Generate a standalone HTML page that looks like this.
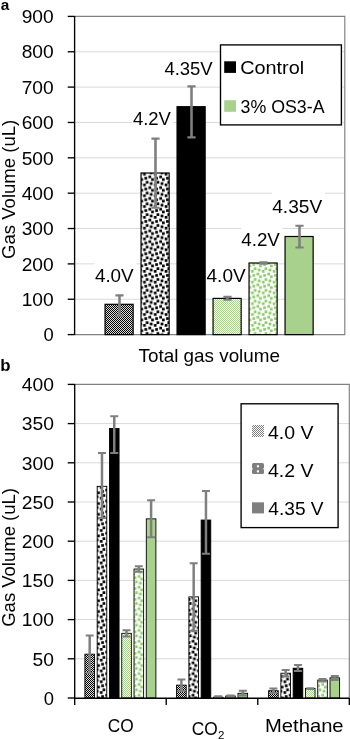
<!DOCTYPE html><html><head><meta charset="utf-8"><title>chart</title>
<style>html,body{margin:0;padding:0;background:#fff}svg{display:block}text{font-family:"Liberation Sans",sans-serif;fill:#000}</style></head><body>
<svg style="will-change:transform" width="350" height="739" viewBox="0 0 350 739">
<defs>
<pattern id="pc" width="2" height="2" patternUnits="userSpaceOnUse"><rect width="2" height="2" fill="#dcdcdc"/><rect x="0" y="0" width="1" height="1" fill="#000"/><rect x="1" y="1" width="1" height="1" fill="#000"/></pattern>
<pattern id="pg" width="2" height="2" patternUnits="userSpaceOnUse"><rect width="2" height="2" fill="#fff"/><rect x="0" y="0" width="1" height="1" fill="#a9d18e"/><rect x="1" y="1" width="1" height="1" fill="#a9d18e"/></pattern>
<pattern id="pl" width="2" height="2" patternUnits="userSpaceOnUse"><rect width="2" height="2" fill="#fff"/><rect x="0" y="0" width="1" height="1" fill="#7f7f7f"/><rect x="1" y="1" width="1" height="1" fill="#7f7f7f"/></pattern>
<pattern id="cc" width="10.8" height="10.8" patternUnits="userSpaceOnUse"><rect width="10.8" height="10.8" fill="#fff"/><rect x="2.7" y="0" width="2.7" height="2.7" fill="#000"/><rect x="8.1" y="2.7" width="2.7" height="2.7" fill="#000"/><rect x="4.05" y="4.05" width="2.7" height="2.7" fill="#000"/><rect x="0" y="5.4" width="2.7" height="2.7" fill="#000"/><rect x="5.4" y="8.1" width="2.7" height="2.7" fill="#000"/><rect x="9.45" y="9.45" width="2.7" height="2.7" fill="#000"/><rect x="-1.35" y="9.45" width="2.7" height="2.7" fill="#000"/><rect x="9.45" y="-1.35" width="2.7" height="2.7" fill="#000"/><rect x="-1.35" y="-1.35" width="2.7" height="2.7" fill="#000"/></pattern>
<pattern id="cg" width="10.8" height="10.8" patternUnits="userSpaceOnUse"><rect width="10.8" height="10.8" fill="#fff"/><rect x="2.7" y="0" width="2.7" height="2.7" fill="#8ecb6c"/><rect x="8.1" y="2.7" width="2.7" height="2.7" fill="#8ecb6c"/><rect x="4.05" y="4.05" width="2.7" height="2.7" fill="#8ecb6c"/><rect x="0" y="5.4" width="2.7" height="2.7" fill="#8ecb6c"/><rect x="5.4" y="8.1" width="2.7" height="2.7" fill="#8ecb6c"/><rect x="9.45" y="9.45" width="2.7" height="2.7" fill="#8ecb6c"/><rect x="-1.35" y="9.45" width="2.7" height="2.7" fill="#8ecb6c"/><rect x="9.45" y="-1.35" width="2.7" height="2.7" fill="#8ecb6c"/><rect x="-1.35" y="-1.35" width="2.7" height="2.7" fill="#8ecb6c"/></pattern>
</defs>
<rect width="350" height="739" fill="#fff"/>
<line x1="74.6" y1="299.24" x2="344.8" y2="299.24" stroke="#d9d9d9" stroke-width="1"/>
<line x1="74.6" y1="263.89" x2="344.8" y2="263.89" stroke="#d9d9d9" stroke-width="1"/>
<line x1="74.6" y1="228.53" x2="344.8" y2="228.53" stroke="#d9d9d9" stroke-width="1"/>
<line x1="74.6" y1="193.18" x2="344.8" y2="193.18" stroke="#d9d9d9" stroke-width="1"/>
<line x1="74.6" y1="157.82" x2="344.8" y2="157.82" stroke="#d9d9d9" stroke-width="1"/>
<line x1="74.6" y1="122.47" x2="344.8" y2="122.47" stroke="#d9d9d9" stroke-width="1"/>
<line x1="74.6" y1="87.11" x2="344.8" y2="87.11" stroke="#d9d9d9" stroke-width="1"/>
<line x1="74.6" y1="51.76" x2="344.8" y2="51.76" stroke="#d9d9d9" stroke-width="1"/>
<path d="M74.6 16.4 H344.8 V334.6 H74.6" fill="none" stroke="#808080" stroke-width="1.15"/>
<rect x="94.5" y="261" width="41.8" height="26" fill="#fff"/>
<rect x="132.3" y="103.5" width="40.9" height="26.5" fill="#fff"/>
<rect x="206.1" y="261" width="42.2" height="26" fill="#fff"/>
<rect x="241" y="225" width="41.4" height="26" fill="#fff"/>
<rect x="272" y="190" width="53" height="27" fill="#fff"/>
<rect x="105.05" y="304.30" width="28.10" height="30.30" fill="url(#pc)" stroke="#000" stroke-width="1.2"/>
<rect x="141.05" y="173.00" width="28.10" height="161.60" fill="url(#cc)" stroke="#000" stroke-width="1.2"/>
<rect x="177.05" y="106.70" width="28.10" height="227.90" fill="#000" stroke="#000" stroke-width="1.2"/>
<rect x="213.05" y="298.40" width="28.10" height="36.20" fill="url(#pg)" stroke="#000" stroke-width="1.2"/>
<rect x="249.05" y="263.00" width="28.10" height="71.60" fill="url(#cg)" stroke="#000" stroke-width="1.2"/>
<rect x="285.05" y="236.50" width="28.10" height="98.10" fill="#a9d18e" stroke="#000" stroke-width="1.2"/>
<path d="M119.50 295.40 V315.60" fill="none" stroke="#7f7f7f" stroke-width="2.6"/>
<path d="M115.40 295.40 H123.60 M115.40 315.60 H123.60" fill="none" stroke="#7f7f7f" stroke-width="2.1"/>
<path d="M155.50 138.60 V207.80" fill="none" stroke="#7f7f7f" stroke-width="2.6"/>
<path d="M151.40 138.60 H159.60 M151.40 207.80 H159.60" fill="none" stroke="#7f7f7f" stroke-width="2.1"/>
<path d="M191.50 86.40 V137.40" fill="none" stroke="#7f7f7f" stroke-width="2.6"/>
<path d="M187.40 86.40 H195.60 M187.40 137.40 H195.60" fill="none" stroke="#7f7f7f" stroke-width="2.1"/>
<path d="M227.50 296.90 V299.80" fill="none" stroke="#7f7f7f" stroke-width="2.6"/>
<path d="M223.40 296.90 H231.60 M223.40 299.80 H231.60" fill="none" stroke="#7f7f7f" stroke-width="2.1"/>
<path d="M263.50 262.20 V263.60" fill="none" stroke="#7f7f7f" stroke-width="2.6"/>
<path d="M259.40 262.20 H267.60 M259.40 263.60 H267.60" fill="none" stroke="#7f7f7f" stroke-width="2.1"/>
<path d="M299.50 225.80 V247.50" fill="none" stroke="#7f7f7f" stroke-width="2.6"/>
<path d="M295.40 225.80 H303.60 M295.40 247.50 H303.60" fill="none" stroke="#7f7f7f" stroke-width="2.1"/>
<line x1="74.6" y1="15.9" x2="74.6" y2="335.1" stroke="#000" stroke-width="1.35"/>
<line x1="67.7" y1="334.60" x2="74.6" y2="334.60" stroke="#000" stroke-width="1.35"/>
<text x="53.7" y="341.30" font-size="18.4" text-anchor="end">0</text>
<line x1="67.7" y1="299.24" x2="74.6" y2="299.24" stroke="#000" stroke-width="1.35"/>
<text x="53.7" y="305.94" font-size="18.4" text-anchor="end" textLength="32.0" lengthAdjust="spacingAndGlyphs">100</text>
<line x1="67.7" y1="263.89" x2="74.6" y2="263.89" stroke="#000" stroke-width="1.35"/>
<text x="53.7" y="270.59" font-size="18.4" text-anchor="end" textLength="32.0" lengthAdjust="spacingAndGlyphs">200</text>
<line x1="67.7" y1="228.53" x2="74.6" y2="228.53" stroke="#000" stroke-width="1.35"/>
<text x="53.7" y="235.23" font-size="18.4" text-anchor="end" textLength="32.0" lengthAdjust="spacingAndGlyphs">300</text>
<line x1="67.7" y1="193.18" x2="74.6" y2="193.18" stroke="#000" stroke-width="1.35"/>
<text x="53.7" y="199.88" font-size="18.4" text-anchor="end" textLength="32.0" lengthAdjust="spacingAndGlyphs">400</text>
<line x1="67.7" y1="157.82" x2="74.6" y2="157.82" stroke="#000" stroke-width="1.35"/>
<text x="53.7" y="164.52" font-size="18.4" text-anchor="end" textLength="32.0" lengthAdjust="spacingAndGlyphs">500</text>
<line x1="67.7" y1="122.47" x2="74.6" y2="122.47" stroke="#000" stroke-width="1.35"/>
<text x="53.7" y="129.17" font-size="18.4" text-anchor="end" textLength="32.0" lengthAdjust="spacingAndGlyphs">600</text>
<line x1="67.7" y1="87.11" x2="74.6" y2="87.11" stroke="#000" stroke-width="1.35"/>
<text x="53.7" y="93.81" font-size="18.4" text-anchor="end" textLength="32.0" lengthAdjust="spacingAndGlyphs">700</text>
<line x1="67.7" y1="51.76" x2="74.6" y2="51.76" stroke="#000" stroke-width="1.35"/>
<text x="53.7" y="58.46" font-size="18.4" text-anchor="end" textLength="32.0" lengthAdjust="spacingAndGlyphs">800</text>
<line x1="67.7" y1="16.40" x2="74.6" y2="16.40" stroke="#000" stroke-width="1.35"/>
<text x="53.7" y="23.10" font-size="18.4" text-anchor="end" textLength="32.0" lengthAdjust="spacingAndGlyphs">900</text>
<text x="94.90" y="282.30" font-size="18.4" text-anchor="start" textLength="38.80" lengthAdjust="spacingAndGlyphs" >4.0V</text>
<text x="132.90" y="124.80" font-size="18.4" text-anchor="start" textLength="38.00" lengthAdjust="spacingAndGlyphs" >4.2V</text>
<text x="164.40" y="74.90" font-size="18.4" text-anchor="start" textLength="48.30" lengthAdjust="spacingAndGlyphs" >4.35V</text>
<text x="206.50" y="282.00" font-size="18.4" text-anchor="start" textLength="39.20" lengthAdjust="spacingAndGlyphs" >4.0V</text>
<text x="241.30" y="245.90" font-size="18.4" text-anchor="start" textLength="38.60" lengthAdjust="spacingAndGlyphs" >4.2V</text>
<text x="272.20" y="212.60" font-size="18.4" text-anchor="start" textLength="50.00" lengthAdjust="spacingAndGlyphs" >4.35V</text>
<rect x="220.5" y="44.9" width="120.9" height="80.0" fill="#fff" stroke="#000" stroke-width="1.35"/>
<rect x="224.2" y="61.3" width="11.8" height="11.6" fill="#000"/>
<rect x="224.2" y="100.2" width="11.8" height="11.6" fill="#a9d18e"/>
<text x="240.20" y="74.00" font-size="18.4" text-anchor="start" textLength="64.00" lengthAdjust="spacingAndGlyphs" >Control</text>
<text x="240.50" y="112.60" font-size="18.4" text-anchor="start" textLength="84.00" lengthAdjust="spacingAndGlyphs" >3% OS3-A</text>
<text transform="translate(15.4,259.0) rotate(-90)" font-size="18.4" textLength="139.3" lengthAdjust="spacingAndGlyphs">Gas Volume (uL)</text>
<text x="138.50" y="362.40" font-size="18.4" text-anchor="start" textLength="141.50" lengthAdjust="spacingAndGlyphs" >Total gas volume</text>
<text x="0.7" y="9.7" font-size="15.4" font-weight="bold">a</text>
<text x="0.3" y="371.4" font-size="16.8" font-weight="bold">b</text>
<line x1="74.7" y1="658.80" x2="349.3" y2="658.80" stroke="#d9d9d9" stroke-width="1"/>
<line x1="74.7" y1="619.60" x2="349.3" y2="619.60" stroke="#d9d9d9" stroke-width="1"/>
<line x1="74.7" y1="580.40" x2="349.3" y2="580.40" stroke="#d9d9d9" stroke-width="1"/>
<line x1="74.7" y1="541.20" x2="349.3" y2="541.20" stroke="#d9d9d9" stroke-width="1"/>
<line x1="74.7" y1="502.00" x2="349.3" y2="502.00" stroke="#d9d9d9" stroke-width="1"/>
<line x1="74.7" y1="462.80" x2="349.3" y2="462.80" stroke="#d9d9d9" stroke-width="1"/>
<line x1="74.7" y1="423.60" x2="349.3" y2="423.60" stroke="#d9d9d9" stroke-width="1"/>
<path d="M74.7 384.4 H349.3 V698" fill="none" stroke="#808080" stroke-width="1.15"/>
<rect x="84.90" y="654.17" width="9.60" height="43.83" fill="url(#pc)" stroke="#000" stroke-width="0.9"/>
<rect x="97.18" y="486.32" width="9.60" height="211.68" fill="url(#cc)" stroke="#000" stroke-width="0.9"/>
<rect x="109.46" y="428.54" width="9.60" height="269.46" fill="#000" stroke="#000" stroke-width="0.9"/>
<rect x="121.74" y="633.32" width="9.60" height="64.68" fill="url(#pg)" stroke="#000" stroke-width="0.9"/>
<rect x="134.02" y="569.03" width="9.60" height="128.97" fill="url(#cg)" stroke="#000" stroke-width="0.9"/>
<rect x="146.30" y="518.86" width="9.60" height="179.14" fill="#a9d18e" stroke="#000" stroke-width="0.9"/>
<path d="M89.70 635.50 V673.00" fill="none" stroke="#7f7f7f" stroke-width="2.5"/>
<path d="M85.70 635.50 H93.70 M85.70 673.00 H93.70" fill="none" stroke="#7f7f7f" stroke-width="2"/>
<path d="M101.98 453.00 V518.00" fill="none" stroke="#7f7f7f" stroke-width="2.5"/>
<path d="M97.98 453.00 H105.98 M97.98 518.00 H105.98" fill="none" stroke="#7f7f7f" stroke-width="2"/>
<path d="M114.26 416.20 V453.00" fill="none" stroke="#7f7f7f" stroke-width="2.5"/>
<path d="M110.26 416.20 H118.26 M110.26 453.00 H118.26" fill="none" stroke="#7f7f7f" stroke-width="2"/>
<path d="M126.54 630.30 V636.40" fill="none" stroke="#7f7f7f" stroke-width="2.5"/>
<path d="M122.54 630.30 H130.54 M122.54 636.40 H130.54" fill="none" stroke="#7f7f7f" stroke-width="2"/>
<path d="M138.82 566.20 V571.80" fill="none" stroke="#7f7f7f" stroke-width="2.5"/>
<path d="M134.82 566.20 H142.82 M134.82 571.80 H142.82" fill="none" stroke="#7f7f7f" stroke-width="2"/>
<path d="M151.10 500.30 V537.30" fill="none" stroke="#7f7f7f" stroke-width="2.5"/>
<path d="M147.10 500.30 H155.10 M147.10 537.30 H155.10" fill="none" stroke="#7f7f7f" stroke-width="2"/>
<rect x="176.60" y="685.14" width="9.60" height="12.86" fill="url(#pc)" stroke="#000" stroke-width="0.9"/>
<rect x="188.88" y="596.86" width="9.60" height="101.14" fill="url(#cc)" stroke="#000" stroke-width="0.9"/>
<rect x="201.16" y="520.03" width="9.60" height="177.97" fill="#000" stroke="#000" stroke-width="0.9"/>
<rect x="213.44" y="697.22" width="9.60" height="0.78" fill="url(#pg)" stroke="#000" stroke-width="0.9"/>
<rect x="225.72" y="696.04" width="9.60" height="1.96" fill="url(#cg)" stroke="#000" stroke-width="0.9"/>
<rect x="238.00" y="693.30" width="9.60" height="4.70" fill="#a9d18e" stroke="#000" stroke-width="0.9"/>
<path d="M181.40 679.40 V691.00" fill="none" stroke="#7f7f7f" stroke-width="2.5"/>
<path d="M177.40 679.40 H185.40 M177.40 691.00 H185.40" fill="none" stroke="#7f7f7f" stroke-width="2"/>
<path d="M193.68 563.20 V630.70" fill="none" stroke="#7f7f7f" stroke-width="2.5"/>
<path d="M189.68 563.20 H197.68 M189.68 630.70 H197.68" fill="none" stroke="#7f7f7f" stroke-width="2"/>
<path d="M205.96 491.10 V553.80" fill="none" stroke="#7f7f7f" stroke-width="2.5"/>
<path d="M201.96 491.10 H209.96 M201.96 553.80 H209.96" fill="none" stroke="#7f7f7f" stroke-width="2"/>
<path d="M218.24 696.20 V697.00" fill="none" stroke="#7f7f7f" stroke-width="2.5"/>
<path d="M214.24 696.20 H222.24 M214.24 697.00 H222.24" fill="none" stroke="#7f7f7f" stroke-width="2"/>
<path d="M230.52 695.40 V696.60" fill="none" stroke="#7f7f7f" stroke-width="2.5"/>
<path d="M226.52 695.40 H234.52 M226.52 696.60 H234.52" fill="none" stroke="#7f7f7f" stroke-width="2"/>
<path d="M242.80 690.80 V695.60" fill="none" stroke="#7f7f7f" stroke-width="2.5"/>
<path d="M238.80 690.80 H246.80 M238.80 695.60 H246.80" fill="none" stroke="#7f7f7f" stroke-width="2"/>
<rect x="268.60" y="690.71" width="9.60" height="7.29" fill="url(#pc)" stroke="#000" stroke-width="0.9"/>
<rect x="280.88" y="673.23" width="9.60" height="24.77" fill="url(#cc)" stroke="#000" stroke-width="0.9"/>
<rect x="293.16" y="668.21" width="9.60" height="29.79" fill="#000" stroke="#000" stroke-width="0.9"/>
<rect x="305.44" y="688.44" width="9.60" height="9.56" fill="url(#pg)" stroke="#000" stroke-width="0.9"/>
<rect x="317.72" y="680.12" width="9.60" height="17.88" fill="url(#cg)" stroke="#000" stroke-width="0.9"/>
<rect x="330.00" y="677.85" width="9.60" height="20.15" fill="#a9d18e" stroke="#000" stroke-width="0.9"/>
<path d="M273.40 688.60 V693.00" fill="none" stroke="#7f7f7f" stroke-width="2.5"/>
<path d="M269.40 688.60 H277.40 M269.40 693.00 H277.40" fill="none" stroke="#7f7f7f" stroke-width="2"/>
<path d="M285.68 670.00 V676.60" fill="none" stroke="#7f7f7f" stroke-width="2.5"/>
<path d="M281.68 670.00 H289.68 M281.68 676.60 H289.68" fill="none" stroke="#7f7f7f" stroke-width="2"/>
<path d="M297.96 665.10 V670.90" fill="none" stroke="#7f7f7f" stroke-width="2.5"/>
<path d="M293.96 665.10 H301.96 M293.96 670.90 H301.96" fill="none" stroke="#7f7f7f" stroke-width="2"/>
<path d="M310.24 688.30 V689.10" fill="none" stroke="#7f7f7f" stroke-width="2.5"/>
<path d="M306.24 688.30 H314.24 M306.24 689.10 H314.24" fill="none" stroke="#7f7f7f" stroke-width="2"/>
<path d="M322.52 678.90 V681.40" fill="none" stroke="#7f7f7f" stroke-width="2.5"/>
<path d="M318.52 678.90 H326.52 M318.52 681.40 H326.52" fill="none" stroke="#7f7f7f" stroke-width="2"/>
<path d="M334.80 676.00 V680.00" fill="none" stroke="#7f7f7f" stroke-width="2.5"/>
<path d="M330.80 676.00 H338.80 M330.80 680.00 H338.80" fill="none" stroke="#7f7f7f" stroke-width="2"/>
<line x1="74.7" y1="383.9" x2="74.7" y2="704.9" stroke="#000" stroke-width="1.35"/>
<line x1="74.2" y1="698.2" x2="349.3" y2="698.2" stroke="#000" stroke-width="1.35"/>
<line x1="166.23" y1="698" x2="166.23" y2="704.9" stroke="#000" stroke-width="1.35"/>
<line x1="257.77" y1="698" x2="257.77" y2="704.9" stroke="#000" stroke-width="1.35"/>
<line x1="349.30" y1="698" x2="349.30" y2="704.9" stroke="#000" stroke-width="1.35"/>
<line x1="67.7" y1="698.00" x2="74.7" y2="698.00" stroke="#000" stroke-width="1.35"/>
<text x="53.9" y="704.70" font-size="18.4" text-anchor="end">0</text>
<line x1="67.7" y1="658.80" x2="74.7" y2="658.80" stroke="#000" stroke-width="1.35"/>
<text x="53.9" y="665.50" font-size="18.4" text-anchor="end" textLength="21.4" lengthAdjust="spacingAndGlyphs">50</text>
<line x1="67.7" y1="619.60" x2="74.7" y2="619.60" stroke="#000" stroke-width="1.35"/>
<text x="53.9" y="626.30" font-size="18.4" text-anchor="end" textLength="32.2" lengthAdjust="spacingAndGlyphs">100</text>
<line x1="67.7" y1="580.40" x2="74.7" y2="580.40" stroke="#000" stroke-width="1.35"/>
<text x="53.9" y="587.10" font-size="18.4" text-anchor="end" textLength="32.2" lengthAdjust="spacingAndGlyphs">150</text>
<line x1="67.7" y1="541.20" x2="74.7" y2="541.20" stroke="#000" stroke-width="1.35"/>
<text x="53.9" y="547.90" font-size="18.4" text-anchor="end" textLength="32.2" lengthAdjust="spacingAndGlyphs">200</text>
<line x1="67.7" y1="502.00" x2="74.7" y2="502.00" stroke="#000" stroke-width="1.35"/>
<text x="53.9" y="508.70" font-size="18.4" text-anchor="end" textLength="32.2" lengthAdjust="spacingAndGlyphs">250</text>
<line x1="67.7" y1="462.80" x2="74.7" y2="462.80" stroke="#000" stroke-width="1.35"/>
<text x="53.9" y="469.50" font-size="18.4" text-anchor="end" textLength="32.2" lengthAdjust="spacingAndGlyphs">300</text>
<line x1="67.7" y1="423.60" x2="74.7" y2="423.60" stroke="#000" stroke-width="1.35"/>
<text x="53.9" y="430.30" font-size="18.4" text-anchor="end" textLength="32.2" lengthAdjust="spacingAndGlyphs">350</text>
<line x1="67.7" y1="384.40" x2="74.7" y2="384.40" stroke="#000" stroke-width="1.35"/>
<text x="53.9" y="391.10" font-size="18.4" text-anchor="end" textLength="32.2" lengthAdjust="spacingAndGlyphs">400</text>
<text transform="translate(15.4,626.8) rotate(-90)" font-size="18.4" textLength="138.8" lengthAdjust="spacingAndGlyphs">Gas Volume (uL)</text>
<text x="107.80" y="732.30" font-size="18.4" text-anchor="start" textLength="26.00" lengthAdjust="spacingAndGlyphs" >CO</text>
<text x="191.80" y="735.30" font-size="18.4" text-anchor="start" textLength="26.00" lengthAdjust="spacingAndGlyphs" >CO</text>
<text x="217.90" y="738.60" font-size="11.5" text-anchor="start" >2</text>
<text x="265.00" y="732.30" font-size="18.4" text-anchor="start" textLength="78.60" lengthAdjust="spacingAndGlyphs" >Methane</text>
<rect x="241.1" y="403.8" width="97.0" height="123.8" fill="#fff" stroke="#000" stroke-width="1.35"/>
<rect x="252" y="425" width="12" height="12" fill="url(#pl)"/>
<rect x="252" y="463" width="12" height="11.1" rx="1.6" fill="#7f7f7f"/>
<rect x="256.9" y="465.2" width="2.1" height="2.1" fill="#fff"/><rect x="256.9" y="470.3" width="2.1" height="2.1" fill="#fff"/><rect x="251.6" y="468.2" width="1.2" height="1.2" fill="#fff"/><rect x="263.2" y="468.2" width="1.2" height="1.2" fill="#fff"/>
<rect x="252" y="502.3" width="12" height="11.1" fill="#7f7f7f"/>
<text x="268.00" y="438.90" font-size="18.4" text-anchor="start" textLength="45.50" lengthAdjust="spacingAndGlyphs" >4.0 V</text>
<text x="268.00" y="476.90" font-size="18.4" text-anchor="start" textLength="45.50" lengthAdjust="spacingAndGlyphs" >4.2 V</text>
<text x="268.30" y="515.10" font-size="18.4" text-anchor="start" textLength="55.30" lengthAdjust="spacingAndGlyphs" >4.35 V</text>
</svg></body></html>
